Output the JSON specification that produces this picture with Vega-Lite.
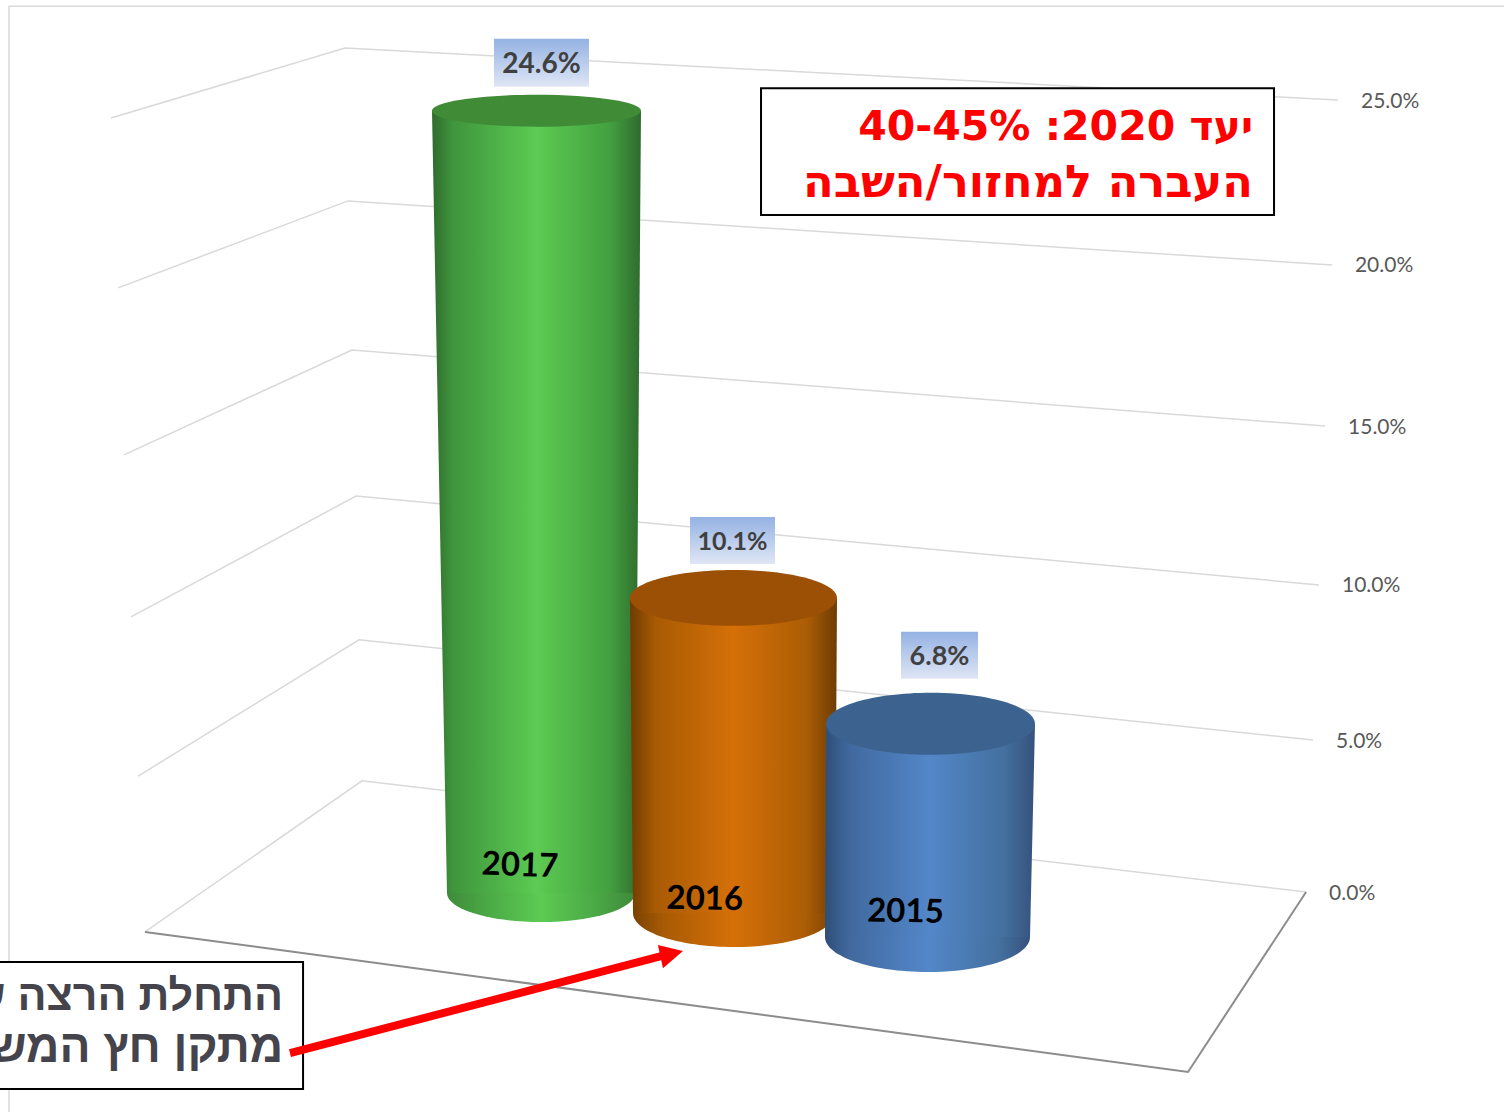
{
"$schema":"https://vega.github.io/schema/vega-lite/v6.json",
"width":1504,"height":1112,"padding":0,"autosize":{"type":"none"},"background":"white",
"config":{"view":{"stroke":null}},
"datasets":{
"bars":[{"year":"2017","value":24.6,"label":"24.6%"},{"year":"2016","value":10.1,"label":"10.1%"},{"year":"2015","value":6.8,"label":"6.8%"}],
"walls":[
{"level":25,"tick":"25.0%","corner":"left","seq":1,"across":7.38,"height":24.65},{"level":25,"tick":"25.0%","corner":"back","seq":2,"across":22.94,"height":26.88},{"level":25,"tick":"25.0%","corner":"right","seq":3,"across":88.96,"height":25.22},
{"level":20,"tick":"20.0%","corner":"left","seq":1,"across":7.85,"height":19.24},{"level":20,"tick":"20.0%","corner":"back","seq":2,"across":23.14,"height":22.01},{"level":20,"tick":"20.0%","corner":"right","seq":3,"across":88.56,"height":19.97},
{"level":15,"tick":"15.0%","corner":"left","seq":1,"across":8.24,"height":13.92},{"level":15,"tick":"15.0%","corner":"back","seq":2,"across":23.40,"height":17.26},{"level":15,"tick":"15.0%","corner":"right","seq":3,"across":88.10,"height":14.84},
{"level":10,"tick":"10.0%","corner":"left","seq":1,"across":8.71,"height":8.76},{"level":10,"tick":"10.0%","corner":"back","seq":2,"across":23.67,"height":12.61},{"level":10,"tick":"10.0%","corner":"right","seq":3,"across":87.70,"height":9.78},
{"level":5,"tick":"5.0%","corner":"left","seq":1,"across":9.18,"height":3.69},{"level":5,"tick":"5.0%","corner":"back","seq":2,"across":23.87,"height":8.03},{"level":5,"tick":"5.0%","corner":"right","seq":3,"across":87.30,"height":4.84},
{"level":0,"tick":"0.0%","corner":"left","seq":1,"across":9.64,"height":-1.27},{"level":0,"tick":"0.0%","corner":"back","seq":2,"across":24.07,"height":3.54},{"level":0,"tick":"0.0%","corner":"right","seq":3,"across":86.84,"height":0}
],
"floorFront":[{"seq":1,"across":9.64,"height":-1.27},{"seq":2,"across":78.99,"height":-5.73},{"seq":3,"across":86.84,"height":0}],
"frame":[{"seq":1,"across":0.6,"height":-7.006},{"seq":2,"across":0.6,"height":28.21},{"seq":3,"across":100,"height":28.21}],
"boxes":[{"across":50.6,"across2":84.71,"height":25.6,"height2":21.56},{"across":-0.33,"across2":20.15,"height":-2.23,"height2":-6.27}],
"notes":[{"note":"goal1","text":"\u202bיעד 2020: 40-45%\u202c","across":83.31,"height":24.33},{"note":"goal2","text":"העברה למחזור/השבה","across":83.31,"height":22.55},{"note":"start1","text":"התחלת הרצה של","across":18.82,"height":-3.34},{"note":"start2","text":"מתקן חץ המשולב","across":18.82,"height":-4.97}],
"arrow":[{"seq":1,"across":19.28,"height":-5.13},{"seq":2,"across":44.21,"height":-2.01}],
"arrowHead":[{"across":44.41,"height":-2.01}]
},
"resolve":{"scale":{"x":"independent","y":"independent"}},
"layer":[
{"data":{"name":"frame"},"mark":{"type":"line","stroke":"#d9d9d9","strokeWidth":1.5},"encoding":{"x":{"field":"across","type":"quantitative","axis":null,"scale":{"domain":[0,100],"nice":false,"zero":false}},"y":{"field":"height","type":"quantitative","axis":null,"scale":{"domain":[-7.006,28.408],"nice":false,"zero":false}},"order":{"field":"seq"}}},
{"data":{"name":"walls"},"mark":{"type":"line","stroke":"#d9d9d9","strokeWidth":1.5},"encoding":{"x":{"field":"across","type":"quantitative","axis":null,"scale":{"domain":[0,100],"nice":false,"zero":false}},"y":{"field":"height","type":"quantitative","axis":null,"scale":{"domain":[-7.006,28.408],"nice":false,"zero":false}},"detail":{"field":"level"},"order":{"field":"seq"}}},
{"data":{"name":"floorFront"},"mark":{"type":"line","stroke":"#8c8c8c","strokeWidth":2},"encoding":{"x":{"field":"across","type":"quantitative","axis":null,"scale":{"domain":[0,100],"nice":false,"zero":false}},"y":{"field":"height","type":"quantitative","axis":null,"scale":{"domain":[-7.006,28.408],"nice":false,"zero":false}},"order":{"field":"seq"}}},
{"data":{"name":"walls"},"transform":[{"filter":"datum.corner=='right'"}],"mark":{"type":"text","align":"left","baseline":"middle","dx":23,"dy":1.5,"font":"Lato","fontSize":21,"fill":"#595959"},"encoding":{"x":{"field":"across","type":"quantitative","axis":null,"scale":{"domain":[0,100],"nice":false,"zero":false}},"y":{"field":"height","type":"quantitative","axis":null,"scale":{"domain":[-7.006,28.408],"nice":false,"zero":false}},"text":{"field":"tick"}}},

{"data":{"name":"bars"},"transform":[{"filter":"datum.year=='2017'"}],"mark":{"type":"point","filled":true,"opacity":1,"strokeWidth":0,"size":35344,"xOffset":4,"shape":"M-1,0C-1,-0.1707,-0.5523,-0.309,0,-0.309C0.5523,-0.309,1,-0.1707,1,0C1,0.1707,0.5523,0.309,0,0.309C-0.5523,0.309,-1,0.1707,-1,0Z","fill":{"gradient":"linear","x1":0,"x2":1,"y1":0,"y2":0,"stops":[{"offset":0,"color":"#3f8a3a"},{"offset":0.2,"color":"#4aa745"},{"offset":0.5,"color":"#5ccb53"},{"offset":0.8,"color":"#4aa745"},{"offset":1,"color":"#3f8a3a"}]}},"encoding":{"x":{"field":"year","type":"nominal","axis":null,"scale":{"type":"band","domain":["2017","2016","2015"],"range":[438.75,1028.25],"paddingInner":0,"paddingOuter":0}},"y":{"datum":0,"type":"quantitative","axis":null,"scale":{"domain":[-6.887,28.082],"nice":false,"zero":false}}}},
{"data":{"name":"bars"},"transform":[{"filter":"datum.year=='2017'"},{"calculate":"0","as":"base"},{"fold":["base","value"],"as":["edge","level"]},{"calculate":"-datum.level-0.001","as":"mirror"}],"mark":{"type":"area","orient":"horizontal","fill":{"gradient":"linear","x1":0,"x2":1,"y1":0,"y2":0,"stops":[{"offset":0,"color":"#2f6b2e"},{"offset":0.1,"color":"#3f953c"},{"offset":0.5,"color":"#5ccb53"},{"offset":0.85,"color":"#43a03f"},{"offset":1,"color":"#2f6b2e"}]}},"encoding":{"x":{"field":"level","type":"quantitative","axis":null,"scale":{"domain":[-24.601,-0.001,0,24.6],"range":[641,635,447,432],"nice":false,"zero":false}},"x2":{"field":"mirror"},"y":{"field":"level","type":"quantitative","axis":null,"scale":{"domain":[-6.887,28.082],"nice":false,"zero":false}}}},
{"data":{"name":"bars"},"transform":[{"filter":"datum.year=='2017'"}],"mark":{"type":"point","filled":true,"opacity":1,"strokeWidth":0,"size":43681,"xOffset":-0.5,"shape":"M-1,0C-1,-0.0845,-0.5523,-0.153,0,-0.153C0.5523,-0.153,1,-0.0845,1,0C1,0.0845,0.5523,0.153,0,0.153C-0.5523,0.153,-1,0.0845,-1,0Z","fill":"#3f8b36"},"encoding":{"x":{"field":"year","type":"nominal","axis":null,"scale":{"type":"band","domain":["2017","2016","2015"],"range":[438.75,1028.25],"paddingInner":0,"paddingOuter":0}},"y":{"field":"value","type":"quantitative","axis":null,"scale":{"domain":[-6.887,28.082],"nice":false,"zero":false}}}},
{"data":{"name":"bars"},"transform":[{"filter":"datum.year=='2017'"}],"mark":{"type":"point","filled":true,"opacity":1,"strokeWidth":0,"size":9025,"xOffset":4.5,"yOffset":-48,"shape":"M-1,-0.505L1,-0.505L1,0.505L-1,0.505Z","fill":{"gradient":"linear","x1":0,"x2":0,"y1":0,"y2":1,"stops":[{"offset":0,"color":"#94b2e3"},{"offset":1,"color":"#dfe6f5"}]}},"encoding":{"x":{"field":"year","type":"nominal","axis":null,"scale":{"type":"band","domain":["2017","2016","2015"],"range":[438.75,1028.25],"paddingInner":0,"paddingOuter":0}},"y":{"field":"value","type":"quantitative","axis":null,"scale":{"domain":[-6.887,28.082],"nice":false,"zero":false}}}},
{"data":{"name":"bars"},"transform":[{"filter":"datum.year=='2017'"}],"mark":{"type":"text","baseline":"middle","align":"center","font":"Lato","fontWeight":"bold","fontSize":28,"fill":"#404040","dx":4.5,"dy":-46},"encoding":{"x":{"field":"year","type":"nominal","axis":null,"scale":{"type":"band","domain":["2017","2016","2015"],"range":[438.75,1028.25],"paddingInner":0,"paddingOuter":0}},"y":{"field":"value","type":"quantitative","axis":null,"scale":{"domain":[-6.887,28.082],"nice":false,"zero":false}},"text":{"field":"label"}}},
{"data":{"name":"bars"},"transform":[{"filter":"datum.year=='2017'"}],"mark":{"type":"text","baseline":"middle","align":"center","font":"Lato","fontWeight":"bold","fontSize":33,"angle":2,"fill":"black","dx":-18,"dy":-26.5},"encoding":{"x":{"field":"year","type":"nominal","axis":null,"scale":{"type":"band","domain":["2017","2016","2015"],"range":[438.75,1028.25],"paddingInner":0,"paddingOuter":0}},"y":{"datum":0,"type":"quantitative","axis":null,"scale":{"domain":[-6.887,28.082],"nice":false,"zero":false}},"text":{"field":"year"}}},

{"data":{"name":"bars"},"transform":[{"filter":"datum.year=='2016'"}],"mark":{"type":"point","filled":true,"opacity":1,"strokeWidth":0,"size":40804,"xOffset":0.5,"shape":"M-1,0C-1,-0.1861,-0.5523,-0.337,0,-0.337C0.5523,-0.337,1,-0.1861,1,0C1,0.1861,0.5523,0.337,0,0.337C-0.5523,0.337,-1,0.1861,-1,0Z","fill":{"gradient":"linear","x1":0,"x2":1,"y1":0,"y2":0,"stops":[{"offset":0,"color":"#7a4303"},{"offset":0.15,"color":"#a85a04"},{"offset":0.5,"color":"#d57008"},{"offset":0.85,"color":"#ac5d05"},{"offset":1,"color":"#7a4303"}]}},"encoding":{"x":{"field":"year","type":"nominal","axis":null,"scale":{"type":"band","domain":["2017","2016","2015"],"range":[438.75,1028.25],"paddingInner":0,"paddingOuter":0}},"y":{"datum":0,"type":"quantitative","axis":null,"scale":{"domain":[-6.378,29.263],"nice":false,"zero":false}}}},
{"data":{"name":"bars"},"transform":[{"filter":"datum.year=='2016'"},{"calculate":"0","as":"base"},{"fold":["base","value"],"as":["edge","level"]},{"calculate":"-datum.level-0.001","as":"mirror"}],"mark":{"type":"area","orient":"horizontal","fill":{"gradient":"linear","x1":0,"x2":1,"y1":0,"y2":0,"stops":[{"offset":0,"color":"#6e3c02"},{"offset":0.12,"color":"#a85a04"},{"offset":0.5,"color":"#d57008"},{"offset":0.85,"color":"#ac5d05"},{"offset":1,"color":"#6e3c02"}]}},"encoding":{"x":{"field":"level","type":"quantitative","axis":null,"scale":{"domain":[-10.101,-0.001,0,10.1],"range":[837,835,633,630],"nice":false,"zero":false}},"x2":{"field":"mirror"},"y":{"field":"level","type":"quantitative","axis":null,"scale":{"domain":[-6.378,29.263],"nice":false,"zero":false}}}},
{"data":{"name":"bars"},"transform":[{"filter":"datum.year=='2016'"}],"mark":{"type":"point","filled":true,"opacity":1,"strokeWidth":0,"size":42849,"shape":"M-1,0C-1,-0.1491,-0.5523,-0.27,0,-0.27C0.5523,-0.27,1,-0.1491,1,0C1,0.1491,0.5523,0.27,0,0.27C-0.5523,0.27,-1,0.1491,-1,0Z","fill":"#9c5006"},"encoding":{"x":{"field":"year","type":"nominal","axis":null,"scale":{"type":"band","domain":["2017","2016","2015"],"range":[438.75,1028.25],"paddingInner":0,"paddingOuter":0}},"y":{"field":"value","type":"quantitative","axis":null,"scale":{"domain":[-6.378,29.263],"nice":false,"zero":false}}}},
{"data":{"name":"bars"},"transform":[{"filter":"datum.year=='2016'"}],"mark":{"type":"point","filled":true,"opacity":1,"strokeWidth":0,"size":7225,"xOffset":-1,"yOffset":-57.5,"shape":"M-1,-0.553L1,-0.553L1,0.553L-1,0.553Z","fill":{"gradient":"linear","x1":0,"x2":0,"y1":0,"y2":1,"stops":[{"offset":0,"color":"#94b2e3"},{"offset":1,"color":"#dfe6f5"}]}},"encoding":{"x":{"field":"year","type":"nominal","axis":null,"scale":{"type":"band","domain":["2017","2016","2015"],"range":[438.75,1028.25],"paddingInner":0,"paddingOuter":0}},"y":{"field":"value","type":"quantitative","axis":null,"scale":{"domain":[-6.378,29.263],"nice":false,"zero":false}}}},
{"data":{"name":"bars"},"transform":[{"filter":"datum.year=='2016'"}],"mark":{"type":"text","baseline":"middle","align":"center","font":"Lato","fontWeight":"bold","fontSize":25,"fill":"#404040","dx":-1,"dy":-55.5},"encoding":{"x":{"field":"year","type":"nominal","axis":null,"scale":{"type":"band","domain":["2017","2016","2015"],"range":[438.75,1028.25],"paddingInner":0,"paddingOuter":0}},"y":{"field":"value","type":"quantitative","axis":null,"scale":{"domain":[-6.378,29.263],"nice":false,"zero":false}},"text":{"field":"label"}}},
{"data":{"name":"bars"},"transform":[{"filter":"datum.year=='2016'"}],"mark":{"type":"text","baseline":"middle","align":"center","font":"Lato","fontWeight":"bold","fontSize":33,"angle":1,"fill":"black","dx":-29,"dy":-13},"encoding":{"x":{"field":"year","type":"nominal","axis":null,"scale":{"type":"band","domain":["2017","2016","2015"],"range":[438.75,1028.25],"paddingInner":0,"paddingOuter":0}},"y":{"datum":0,"type":"quantitative","axis":null,"scale":{"domain":[-6.378,29.263],"nice":false,"zero":false}},"text":{"field":"year"}}},

{"data":{"name":"bars"},"transform":[{"filter":"datum.year=='2015'"}],"mark":{"type":"point","filled":true,"opacity":1,"strokeWidth":0,"size":42025,"xOffset":-2.5,"shape":"M-1,0C-1,-0.1883,-0.5523,-0.341,0,-0.341C0.5523,-0.341,1,-0.1883,1,0C1,0.1883,0.5523,0.341,0,0.341C-0.5523,0.341,-1,0.1883,-1,0Z","fill":{"gradient":"linear","x1":0,"x2":1,"y1":0,"y2":0,"stops":[{"offset":0,"color":"#2f4e78"},{"offset":0.12,"color":"#41699f"},{"offset":0.5,"color":"#5387c9"},{"offset":0.85,"color":"#44709f"},{"offset":1,"color":"#35527c"}]}},"encoding":{"x":{"field":"year","type":"nominal","axis":null,"scale":{"type":"band","domain":["2017","2016","2015"],"range":[438.75,1028.25],"paddingInner":0,"paddingOuter":0}},"y":{"datum":0,"type":"quantitative","axis":null,"scale":{"domain":[-5.582,29.888],"nice":false,"zero":false}}}},
{"data":{"name":"bars"},"transform":[{"filter":"datum.year=='2015'"},{"calculate":"0","as":"base"},{"fold":["base","value"],"as":["edge","level"]},{"calculate":"-datum.level-0.001","as":"mirror"}],"mark":{"type":"area","orient":"horizontal","fill":{"gradient":"linear","x1":0,"x2":1,"y1":0,"y2":0,"stops":[{"offset":0,"color":"#2f4e78"},{"offset":0.12,"color":"#41699f"},{"offset":0.5,"color":"#5387c9"},{"offset":0.85,"color":"#44709f"},{"offset":1,"color":"#35527c"}]}},"encoding":{"x":{"field":"level","type":"quantitative","axis":null,"scale":{"domain":[-6.801,-0.001,0,6.8],"range":[1035,1030,825,826],"nice":false,"zero":false}},"x2":{"field":"mirror"},"y":{"field":"level","type":"quantitative","axis":null,"scale":{"domain":[-5.582,29.888],"nice":false,"zero":false}}}},
{"data":{"name":"bars"},"transform":[{"filter":"datum.year=='2015'"}],"mark":{"type":"point","filled":true,"opacity":1,"strokeWidth":0,"size":43681,"xOffset":0.5,"shape":"M-1,0C-1,-0.164,-0.5523,-0.297,0,-0.297C0.5523,-0.297,1,-0.164,1,0C1,0.164,0.5523,0.297,0,0.297C-0.5523,0.297,-1,0.164,-1,0Z","fill":"#3c638f"},"encoding":{"x":{"field":"year","type":"nominal","axis":null,"scale":{"type":"band","domain":["2017","2016","2015"],"range":[438.75,1028.25],"paddingInner":0,"paddingOuter":0}},"y":{"field":"value","type":"quantitative","axis":null,"scale":{"domain":[-5.582,29.888],"nice":false,"zero":false}}}},
{"data":{"name":"bars"},"transform":[{"filter":"datum.year=='2015'"}],"mark":{"type":"point","filled":true,"opacity":1,"strokeWidth":0,"size":5929,"xOffset":9.5,"yOffset":-68.5,"shape":"M-1,-0.61L1,-0.61L1,0.61L-1,0.61Z","fill":{"gradient":"linear","x1":0,"x2":0,"y1":0,"y2":1,"stops":[{"offset":0,"color":"#94b2e3"},{"offset":1,"color":"#dfe6f5"}]}},"encoding":{"x":{"field":"year","type":"nominal","axis":null,"scale":{"type":"band","domain":["2017","2016","2015"],"range":[438.75,1028.25],"paddingInner":0,"paddingOuter":0}},"y":{"field":"value","type":"quantitative","axis":null,"scale":{"domain":[-5.582,29.888],"nice":false,"zero":false}}}},
{"data":{"name":"bars"},"transform":[{"filter":"datum.year=='2015'"}],"mark":{"type":"text","baseline":"middle","align":"center","font":"Lato","fontWeight":"bold","fontSize":27,"fill":"#404040","dx":9.5,"dy":-66.5},"encoding":{"x":{"field":"year","type":"nominal","axis":null,"scale":{"type":"band","domain":["2017","2016","2015"],"range":[438.75,1028.25],"paddingInner":0,"paddingOuter":0}},"y":{"field":"value","type":"quantitative","axis":null,"scale":{"domain":[-5.582,29.888],"nice":false,"zero":false}},"text":{"field":"label"}}},
{"data":{"name":"bars"},"transform":[{"filter":"datum.year=='2015'"}],"mark":{"type":"text","baseline":"middle","align":"center","font":"Lato","fontWeight":"bold","fontSize":33,"angle":1,"fill":"black","dx":-25,"dy":-24.5},"encoding":{"x":{"field":"year","type":"nominal","axis":null,"scale":{"type":"band","domain":["2017","2016","2015"],"range":[438.75,1028.25],"paddingInner":0,"paddingOuter":0}},"y":{"datum":0,"type":"quantitative","axis":null,"scale":{"domain":[-5.582,29.888],"nice":false,"zero":false}},"text":{"field":"year"}}},

{"data":{"name":"boxes"},"mark":{"type":"rect","fill":"white","stroke":"black","strokeWidth":2},"encoding":{"x":{"field":"across","type":"quantitative","axis":null,"scale":{"domain":[0,100],"nice":false,"zero":false}},"x2":{"field":"across2"},"y":{"field":"height","type":"quantitative","axis":null,"scale":{"domain":[-7.006,28.408],"nice":false,"zero":false}},"y2":{"field":"height2"}}},
{"data":{"name":"notes"},"transform":[{"filter":"datum.note=='goal1'"}],"mark":{"type":"text","align":"right","baseline":"middle","font":"DejaVu Sans","fontWeight":"bold","fontSize":41,"fill":"#ff0000"},"encoding":{"x":{"field":"across","type":"quantitative","axis":null,"scale":{"domain":[0,100],"nice":false,"zero":false}},"y":{"field":"height","type":"quantitative","axis":null,"scale":{"domain":[-7.006,28.408],"nice":false,"zero":false}},"text":{"field":"text"}}},
{"data":{"name":"notes"},"transform":[{"filter":"datum.note=='goal2'"}],"mark":{"type":"text","align":"right","baseline":"middle","font":"DejaVu Sans","fontWeight":"bold","fontSize":44.7,"fill":"#ff0000"},"encoding":{"x":{"field":"across","type":"quantitative","axis":null,"scale":{"domain":[0,100],"nice":false,"zero":false}},"y":{"field":"height","type":"quantitative","axis":null,"scale":{"domain":[-7.006,28.408],"nice":false,"zero":false}},"text":{"field":"text"}}},
{"data":{"name":"notes"},"transform":[{"filter":"datum.note=='start1'"}],"mark":{"type":"text","align":"right","baseline":"middle","font":"Liberation Sans","fontWeight":"bold","fontSize":43,"fill":"#45444c"},"encoding":{"x":{"field":"across","type":"quantitative","axis":null,"scale":{"domain":[0,100],"nice":false,"zero":false}},"y":{"field":"height","type":"quantitative","axis":null,"scale":{"domain":[-7.006,28.408],"nice":false,"zero":false}},"text":{"field":"text"}}},
{"data":{"name":"notes"},"transform":[{"filter":"datum.note=='start2'"}],"mark":{"type":"text","align":"right","baseline":"middle","font":"Liberation Sans","fontWeight":"bold","fontSize":46,"fill":"#45444c"},"encoding":{"x":{"field":"across","type":"quantitative","axis":null,"scale":{"domain":[0,100],"nice":false,"zero":false}},"y":{"field":"height","type":"quantitative","axis":null,"scale":{"domain":[-7.006,28.408],"nice":false,"zero":false}},"text":{"field":"text"}}},
{"data":{"name":"arrow"},"mark":{"type":"line","stroke":"#ff0000","strokeWidth":8},"encoding":{"x":{"field":"across","type":"quantitative","axis":null,"scale":{"domain":[0,100],"nice":false,"zero":false}},"y":{"field":"height","type":"quantitative","axis":null,"scale":{"domain":[-7.006,28.408],"nice":false,"zero":false}},"order":{"field":"seq"}}},
{"data":{"name":"arrowHead"},"mark":{"type":"point","filled":true,"opacity":1,"strokeWidth":0,"size":900,"fill":"#ff0000","shape":"M1,-0.27L-0.67,-0.67L-0.33,0.87Z"},"encoding":{"x":{"field":"across","type":"quantitative","axis":null,"scale":{"domain":[0,100],"nice":false,"zero":false}},"y":{"field":"height","type":"quantitative","axis":null,"scale":{"domain":[-7.006,28.408],"nice":false,"zero":false}}}}
]
}
